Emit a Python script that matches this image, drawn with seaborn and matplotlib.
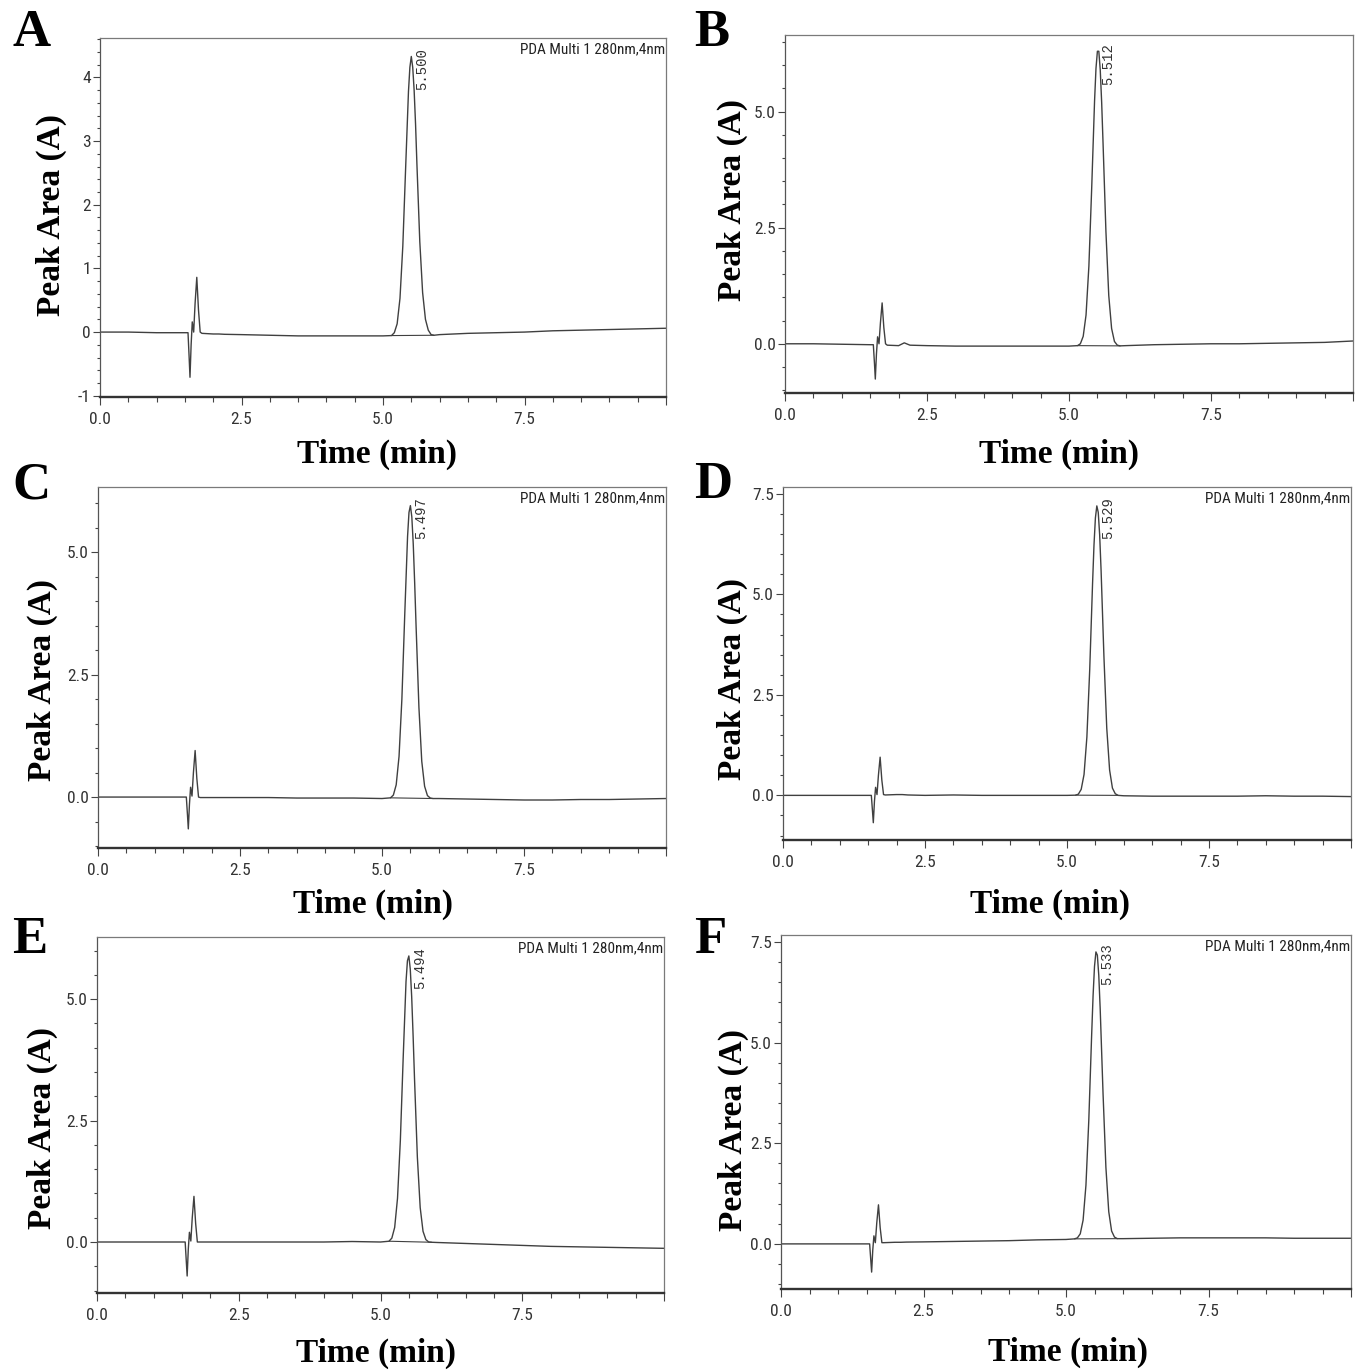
import matplotlib
matplotlib.use("Agg")
import matplotlib.pyplot as plt
import seaborn as sns
import pandas as pd
import numpy as np
from matplotlib import font_manager
from matplotlib.ticker import FixedLocator, MultipleLocator, FixedFormatter

# ---------------- data ----------------
time_min = [0.0, 0.5, 1.0, 1.5,
            1.555, 1.575, 1.59, 1.61, 1.63, 1.655, 1.68, 1.71, 1.74, 1.77, 1.8,
            2.0, 2.1, 2.2, 2.5, 3.0, 3.5, 4.0, 4.5, 5.0,
            5.15, 5.2, 5.25, 5.3, 5.35, 5.4, 5.45, 5.475, 5.5, 5.525, 5.55, 5.575,
            5.6, 5.65, 5.7, 5.75, 5.8, 5.85, 5.9,
            6.0, 6.5, 7.0, 7.5, 8.0, 8.5, 9.0, 9.5, 10.0]

signal_A = [0.00, 0.00, -0.01, -0.01,
            -0.01, -0.40, -0.71, -0.20, 0.16, 0.00, 0.45, 0.86, 0.35, 0.00, -0.02,
            -0.03, -0.03, -0.035, -0.04, -0.05, -0.06, -0.06, -0.06, -0.06,
            -0.055, -0.01, 0.13, 0.53, 1.35, 2.58, 3.78, 4.16, 4.33, 4.16, 3.80, 3.27,
            2.62, 1.42, 0.62, 0.20, 0.03, -0.04, -0.05,
            -0.04, -0.02, -0.01, 0.00, 0.02, 0.03, 0.04, 0.05, 0.06]

signal_B = [0.00, 0.00, -0.01, -0.02,
            -0.02, -0.42, -0.76, -0.22, 0.15, 0.00, 0.45, 0.88, 0.35, 0.00, -0.03,
            -0.04, 0.02, -0.03, -0.04, -0.05, -0.05, -0.05, -0.05, -0.05,
            -0.04, 0.00, 0.16, 0.62, 1.67, 3.37, 5.23, 5.93, 6.30, 6.30, 5.90, 5.20,
            4.30, 2.42, 1.04, 0.33, 0.05, -0.03, -0.045,
            -0.04, -0.02, -0.01, 0.00, 0.00, 0.01, 0.02, 0.03, 0.06]

signal_C = [0.00, 0.00, 0.00, 0.00,
            0.00, -0.36, -0.65, -0.15, 0.20, 0.02, 0.50, 0.95, 0.38, 0.00, -0.01,
            -0.01, -0.01, -0.01, -0.01, -0.01, -0.02, -0.02, -0.02, -0.03,
            -0.016, 0.04, 0.25, 0.83, 2.00, 3.71, 5.32, 5.81, 5.95, 5.72, 5.17, 4.38,
            3.49, 1.83, 0.73, 0.22, 0.03, -0.02, -0.03,
            -0.03, -0.04, -0.05, -0.06, -0.06, -0.05, -0.05, -0.04, -0.03]

signal_D = [0.00, 0.00, 0.00, 0.00,
            0.00, -0.38, -0.68, -0.15, 0.20, 0.02, 0.50, 0.95, 0.38, 0.02, 0.01,
            0.02, 0.02, 0.01, 0.00, 0.01, 0.00, 0.00, 0.00, 0.00,
            0.005, 0.03, 0.15, 0.52, 1.45, 3.13, 5.27, 6.22, 6.90, 7.20, 7.04, 6.48,
            5.60, 3.46, 1.67, 0.63, 0.18, 0.04, 0.00,
            -0.01, -0.02, -0.02, -0.02, -0.02, -0.01, -0.02, -0.02, -0.03]

signal_E = [0.00, 0.00, 0.00, 0.00,
            0.00, -0.40, -0.70, -0.15, 0.20, 0.02, 0.50, 0.94, 0.38, 0.00, 0.00,
            0.00, 0.00, 0.00, 0.00, 0.00, 0.00, 0.00, 0.01, 0.00,
            0.016, 0.08, 0.30, 0.90, 2.09, 3.79, 5.36, 5.79, 5.89, 5.62, 5.05, 4.25,
            3.36, 1.75, 0.71, 0.22, 0.05, 0.00, -0.005,
            -0.01, -0.03, -0.05, -0.07, -0.09, -0.10, -0.11, -0.12, -0.13]

signal_F = [0.00, 0.00, 0.00, 0.00,
            0.00, -0.40, -0.70, -0.15, 0.20, 0.03, 0.52, 0.97, 0.40, 0.03, 0.03,
            0.04, 0.04, 0.045, 0.05, 0.06, 0.07, 0.08, 0.10, 0.11,
            0.125, 0.15, 0.25, 0.59, 1.46, 3.07, 5.19, 6.16, 6.89, 7.25, 7.17, 6.67,
            5.83, 3.73, 1.90, 0.80, 0.32, 0.17, 0.13,
            0.13, 0.14, 0.15, 0.15, 0.15, 0.15, 0.14, 0.14, 0.14]

panel_letters = ["A", "B", "C", "D", "E", "F"]
retention_labels = ["5.500", "5.512", "5.497", "5.529", "5.494", "5.533"]
show_pda = [True, False, True, True, True, True]
pda_text = "PDA Multi 1 280nm,4nm"
integration_window = (5.15, 5.9)

x_major_ticks = [0.0, 2.5, 5.0, 7.5, 10.0]
x_tick_labels = ["0.0", "2.5", "5.0", "7.5", ""]

y_major_ticks = [[-1, 0, 1, 2, 3, 4],
                 [0.0, 2.5, 5.0],
                 [0.0, 2.5, 5.0],
                 [0.0, 2.5, 5.0, 7.5],
                 [0.0, 2.5, 5.0],
                 [0.0, 2.5, 5.0, 7.5]]
y_tick_labels = [["-1", "0", "1", "2", "3", "4"],
                 ["0.0", "2.5", "5.0"],
                 ["0.0", "2.5", "5.0"],
                 ["0.0", "2.5", "5.0", "7.5"],
                 ["0.0", "2.5", "5.0"],
                 ["0.0", "2.5", "5.0", "7.5"]]
y_minor_step = [0.2, 0.5, 0.5, 0.5, 0.5, 0.5]
y_limits = [(-1.02, 4.62), (-1.06, 6.65), (-1.04, 6.33),
            (-1.11, 7.67), (-1.05, 6.28), (-1.12, 7.67)]

signals = [signal_A, signal_B, signal_C, signal_D, signal_E, signal_F]

# ---------------- layout (pixels) ----------------
W, H = 1364, 1371
axes_px = [(100, 38, 666, 397), (785, 35, 1353, 393),
           (98, 487, 666, 848), (783, 487, 1351, 840),
           (97, 937, 664, 1293), (781, 935, 1351, 1289)]
xlabel_px = [(377, 454), (1059, 454), (373, 904), (1050, 904), (376, 1353), (1068, 1352)]
ylabel_px = [(51, 215), (732, 200), (42, 680), (732, 679), (42, 1128), (733, 1130)]
letter_px = [(12, 46), (694, 46), (12, 498), (694, 498), (12, 953), (694, 953)]

# ---------------- style ----------------
sns.set_theme(style="white")
available = {f.name for f in font_manager.fontManager.ttflist}
narrow = next((f for f in ["Liberation Sans Narrow", "Roboto Condensed", "DejaVu Sans Condensed",
                           "Liberation Sans"] if f in available), "DejaVu Sans")
serif = "Liberation Serif" if "Liberation Serif" in available else "DejaVu Serif"
mono = "Liberation Mono" if "Liberation Mono" in available else "DejaVu Sans Mono"
plt.rcParams["font.family"] = [narrow, "DejaVu Sans"]
plt.rcParams["axes.unicode_minus"] = False

line_color = "#404040"

fig = plt.figure(figsize=(W / 100, H / 100), dpi=100)
fig.patch.set_facecolor("white")

for i in range(6):
    l, t, r, b = axes_px[i]
    ax = fig.add_axes([l / W, 1 - b / H, (r - l) / W, (b - t) / H])
    ax.set_facecolor("white")
    df = pd.DataFrame({"Time (min)": time_min, "Signal": signals[i]})
    sns.lineplot(data=df, x="Time (min)", y="Signal", ax=ax, color=line_color,
                 linewidth=1.0, estimator=None, sort=True)

    # integration baseline under main peak
    ts = np.array(time_min)
    sig = np.array(signals[i])
    i0 = int(np.argmin(np.abs(ts - integration_window[0])))
    i1 = int(np.argmin(np.abs(ts - integration_window[1])))
    ax.plot([ts[i0], ts[i1]], [sig[i0], sig[i1]], color=line_color, linewidth=0.8)

    ax.set_xlim(0, 10.0)
    ax.set_ylim(*y_limits[i])

    ax.xaxis.set_major_locator(FixedLocator(x_major_ticks))
    ax.xaxis.set_major_formatter(FixedFormatter(x_tick_labels))
    ax.xaxis.set_minor_locator(MultipleLocator(0.5))
    ax.yaxis.set_major_locator(FixedLocator(y_major_ticks[i]))
    ax.yaxis.set_major_formatter(FixedFormatter(y_tick_labels[i]))
    ax.yaxis.set_minor_locator(MultipleLocator(y_minor_step[i]))

    ax.tick_params(axis="both", which="both", direction="out", colors="#444444",
                   labelcolor="#333333", labelsize=12.5, bottom=True, left=True)
    ax.tick_params(axis="x", which="major", length=5.5, width=0.8, pad=5)
    ax.tick_params(axis="x", which="minor", length=3.5, width=0.8)
    ax.tick_params(axis="y", which="major", length=5, width=0.8, pad=1.5)
    ax.tick_params(axis="y", which="minor", length=2.5, width=0.8)

    for side in ["top", "right"]:
        ax.spines[side].set_color("#7a7a7a")
        ax.spines[side].set_linewidth(0.9)
    ax.spines["left"].set_color("#555555")
    ax.spines["left"].set_linewidth(0.9)
    ax.spines["bottom"].set_color("#333333")
    ax.spines["bottom"].set_linewidth(1.7)

    ax.set_xlabel("Time (min)", fontfamily=serif, fontweight="bold", fontsize=24,
                  color="black", va="center")
    ax.set_ylabel("Peak Area (A)", fontfamily=serif, fontweight="bold", fontsize=24,
                  color="black", va="center")
    cx, cy = xlabel_px[i]
    ax.xaxis.set_label_coords((cx - l) / (r - l), (b - cy) / (b - t))
    cx, cy = ylabel_px[i]
    ax.yaxis.set_label_coords((cx - l) / (r - l), (b - cy) / (b - t))

    k = int(np.argmax(sig))
    ax.annotate(retention_labels[i], xy=(ts[k], sig[k]), xytext=(3, 6),
                textcoords="offset points", rotation=90, ha="left", va="top",
                fontsize=10, fontfamily=mono, color="#333333")

    if show_pda[i]:
        ax.text(0.999, 0.988, pda_text, transform=ax.transAxes, ha="right", va="top",
                fontsize=11, color="#222222")

    lx, ly = letter_px[i]
    fig.text(lx / W, 1 - ly / H, panel_letters[i], fontfamily=serif, fontweight="bold",
             fontsize=38, ha="left", va="baseline", color="black")

fig.savefig("out.png", dpi=100, facecolor="white")
